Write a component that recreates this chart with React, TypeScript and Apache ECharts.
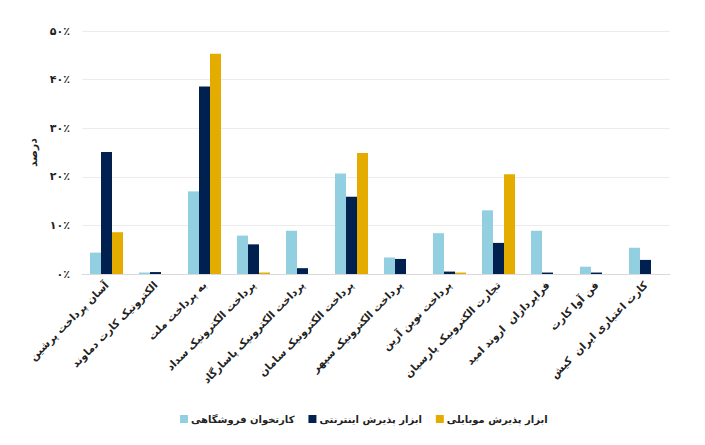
import React, { useEffect, useRef } from "react";
import * as echarts from "echarts";

const categories = [
  "آسان پرداخت پرشین",
  "الکترونیک کارت دماوند",
  "به پرداخت ملت",
  "پرداخت الکترونیک سداد",
  "پرداخت الکترونیک پاسارگاد",
  "پرداخت الکترونیک سامان",
  "پرداخت الکترونیک سپهر",
  "پرداخت نوین آرین",
  "تجارت الکترونیک پارسیان",
  "فراپردازان  اروند امید",
  "فن آوا کارت",
  "کارت اعتباری ایران  کیش",
];

const seriesNames = ["کارتخوان فروشگاهی", "ابزار پذیرش اینترنتی", "ابزار پذیرش موبایلی"];

const posValues = [4.4, 0.3, 17.0, 7.9, 8.9, 20.7, 3.4, 8.4, 13.1, 8.9, 1.5, 5.4];
const internetValues = [25.1, 0.4, 38.6, 6.1, 1.2, 15.9, 3.1, 0.5, 6.4, 0.3, 0.3, 2.9];
const mobileValues = [8.6, 0, 45.3, 0.3, 0, 24.9, 0, 0.3, 20.5, 0, 0, 0];

const yTickLabels = ["۰٪", "۱۰٪", "۲۰٪", "۳۰٪", "۴۰٪", "۵۰٪"];

const colors = ["#92CFE0", "#00204F", "#E5AC00"];

export default function App() {
  const ref = useRef<HTMLDivElement>(null);
  useEffect(() => {
    if (!ref.current) return;
    const chart = echarts.init(ref.current, undefined, { renderer: "svg" });
    const font = "DejaVu Sans";
    chart.setOption({
      animation: false,
      backgroundColor: "#ffffff",
      color: colors,
      textStyle: { fontFamily: font },
      grid: { left: 82, right: 35, top: 31, bottom: 171, containLabel: false },
      legend: {
        bottom: 16,
        left: 175,
        itemWidth: 8,
        itemHeight: 8,
        itemGap: 14,
        icon: "rect",
        textStyle: { fontFamily: font, fontSize: 10, fontWeight: "bold", color: "#222", padding: [0, 0, 0, -2] },
        data: seriesNames,
      },
      xAxis: {
        type: "category",
        data: categories,
        axisLine: { lineStyle: { color: "#d9d9d9" } },
        axisTick: { show: false },
        axisLabel: {
          rotate: 45,
          interval: 0,
          margin: 9,
          fontFamily: font,
          fontSize: 10.5,
          fontWeight: "bold",
          color: "#222",
        },
      },
      yAxis: {
        type: "value",
        min: 0,
        max: 50,
        interval: 10,
        name: "درصد",
        nameLocation: "middle",
        nameGap: 40,
        nameTextStyle: { fontFamily: font, fontSize: 11, fontWeight: "bold", color: "#222" },
        axisLine: { show: false },
        axisTick: { show: false },
        splitLine: { lineStyle: { color: "#ececec" } },
        axisLabel: {
          margin: 12,
          fontFamily: font,
          fontSize: 11,
          fontWeight: "bold",
          color: "#222",
          formatter: (v: number) => yTickLabels[Math.round(v / 10)] ?? "",
        },
      },
      series: [
        { name: seriesNames[0], type: "bar", data: posValues, barWidth: 11, barGap: "0%" },
        { name: seriesNames[1], type: "bar", data: internetValues, barWidth: 11, barGap: "0%" },
        { name: seriesNames[2], type: "bar", data: mobileValues, barWidth: 11, barGap: "0%" },
      ],
    });
    return () => chart.dispose();
  }, []);
  return (
    <div
      ref={ref}
      style={{ position: "fixed", left: 0, top: 0, width: 705, height: 445 }}
    />
  );
}
